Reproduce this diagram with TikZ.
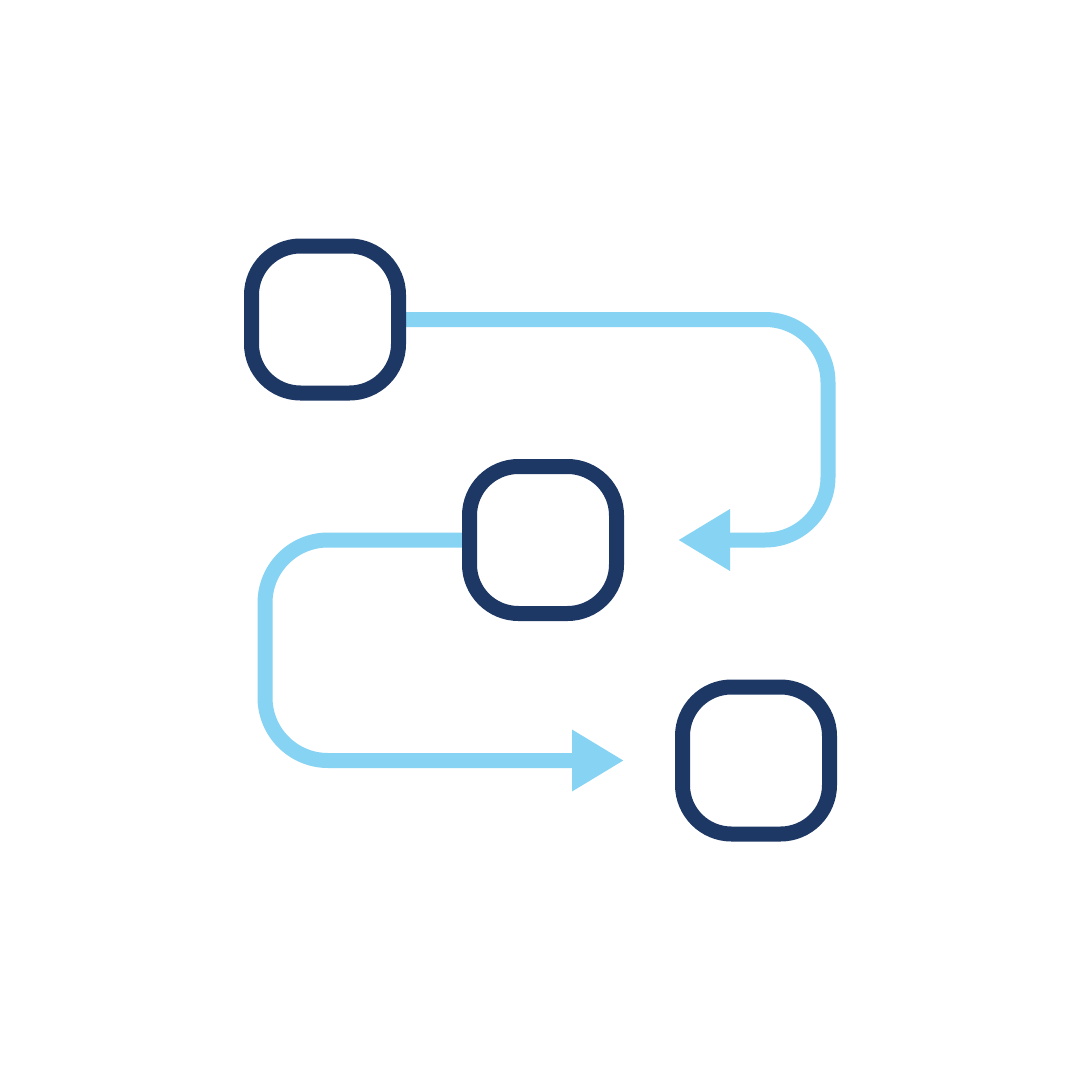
\documentclass[tikz,border=0pt]{standalone}
\usetikzlibrary{arrows.meta,backgrounds}
\definecolor{navy}{HTML}{1D3864}
\definecolor{sky}{HTML}{87D3F3}
\tikzset{
  box/.style={draw=navy, line width=15pt, fill=white, rounded corners=49pt,
    minimum width=147pt, minimum height=147pt, inner sep=0pt, outer sep=0pt},
  flow/.style={draw=sky, line width=15pt, rounded corners=63pt,
    -{Triangle[length=52pt,width=58pt]}}
}
\begin{document}
\begin{tikzpicture}[x=1pt,y=-1pt]
\useasboundingbox (0,0) rectangle (1081,1081);
\node[box] (b1) at (325,319.5) {};
\node[box] (b2) at (543,540) {};
\node[box] (b3) at (756,760.5) {};
\coordinate (t1) at (678,540);
\coordinate (t2) at (624,760.5);
\begin{pgfonlayer}{background}
\fill[white] (0,0) rectangle (1081,1081);
\draw[flow] (b1.east) -- (828,319.5) -- (828,540) -- (t1);
\draw[flow] (b2.west) -- (265,540) -- (265,760.5) -- (t2);
\end{pgfonlayer}
\end{tikzpicture}
\end{document}
